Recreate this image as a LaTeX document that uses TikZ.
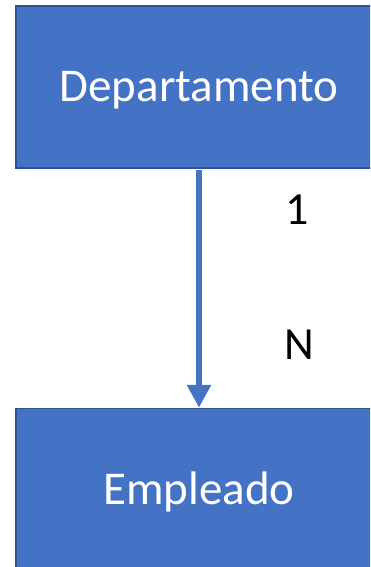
\documentclass[tikz,border=0pt]{standalone}
\usepackage{fontspec}
\setmainfont{Carlito}
\usepackage{tikz}
\usetikzlibrary{positioning,arrows.meta}
\definecolor{boxblue}{HTML}{4472C4}
\definecolor{boxline}{HTML}{2F528F}
\begin{document}
\begin{tikzpicture}[x=1pt,y=-1pt]
 		\tikzstyle{entity}=[rectangle, minimum width = 366pt, minimum height = 162pt, fill = boxblue, draw = boxline, line width = 1.5pt, text = white, font = \fontsize{47}{56}\selectfont, text height = 30pt, text depth = 0pt, node distance = 239pt]
 		\tikzstyle{connect}=[-{Triangle[width=23pt,length=23pt]}, line width = 6pt, draw = boxblue, shorten <= 1pt]
 		\tikzstyle{card}=[font = \fontsize{46}{55}\selectfont, text = black]
 		\useasboundingbox (0,0) rectangle (370,567);
 		\clip (0,0) rectangle (370,567);
 		\node[entity] (dept) at (199,87) {Departamento};
 		\node[entity] (emp) [below=of dept] {Empleado};
 		\path (dept) edge [connect] (emp);
 		\node[card] (one) at (297,210) {1};
 		\node[card] (n) at (299,345) {N};
\end{tikzpicture}
\end{document}
